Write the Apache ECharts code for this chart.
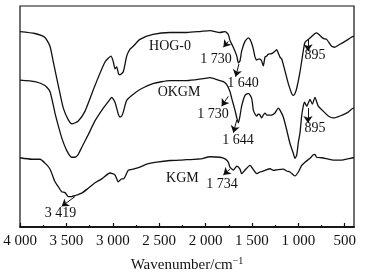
<!DOCTYPE html>
<html>
<head>
<meta charset="utf-8">
<script src="https://cdn.jsdelivr.net/npm/echarts@6/dist/echarts.min.js"></script>
<style>
  html, body { margin: 0; padding: 0; background: #fff; }
  #chart { width: 365px; height: 278px; }
</style>
</head>
<body>
<div id="chart"></div>
<script>
// FTIR spectra, stacked with offsets (transmittance, arbitrary units)
const hogWn = [4000,3838,3731,3677,3641,3587,3533,3479,3440,3372,3299,3192,3084,3019,2994,2976,2958,2938,2922,2887,2850,2814,2779,2707,2567,2383,2203,2060,1952,1844,1790,1755,1737,1701,1663,1646,1629,1611,1575,1539,1521,1503,1485,1467,1449,1432,1413,1395,1378,1359,1341,1324,1287,1252,1233,1216,1198,1179,1144,1108,1072,1054,1036,1018,982,947,928,893,856,821,803,767,731,695,641,605,587,551,515,462,408,400];
const hogT = [199,197,193,184,168,144,121,109,105,108,118,144,168,174,168,161,163,156,155,158,174,181,184,191,196,198,198,199,200,198,199,196,190,183,174,167,169,179,189,192.5,191,187,181,173,170,171,171,169,164,173,174,176,176.5,179,180.5,177,173,171,159,146,136,134,136,141,158,179,188,191,194,197,197.7,195,192,191,184,183,184,186,188,191,194,194];

const okgmWn = [4000,3838,3731,3677,3623,3587,3551,3497,3443,3407,3372,3335,3264,3192,3102,3030,3012,2976,2941,2922,2904,2887,2850,2796,2707,2567,2383,2203,2028,1952,1844,1808,1772,1737,1718,1683,1663,1646,1629,1611,1575,1539,1503,1485,1467,1449,1432,1413,1395,1378,1359,1341,1324,1287,1252,1216,1198,1162,1126,1090,1054,1036,1018,1000,982,964,947,932,910,874,849,821,785,731,677,623,551,462,408,400];
const okgmT = [149.5,148,144,138,116,103,91,78,71,71,74,81,94,108,121,130,132,127,115,112,113,117,129,134,140,146,149,149,151,152,149,148,145,138,131,119,111,106,113,123,134,136,131,119,115,113,115,114,111,114,116,114,114,114,116,121,119,112,99,85,75,70,73,86,96,113,123,127,123,130,125,132,123,118,113,111,113,117,121,121];

const kgmWn = [4000,3874,3784,3731,3677,3623,3587,3551,3515,3479,3443,3407,3335,3264,3192,3119,3030,2976,2941,2904,2887,2868,2833,2779,2707,2634,2527,2383,2276,2203,2060,1952,1844,1790,1755,1737,1701,1663,1629,1611,1575,1521,1485,1449,1413,1359,1305,1270,1216,1162,1126,1090,1054,1036,1000,964,928,874,839,821,803,749,677,623,533,462,408,400];
const kgmT = [70.5,69,69,65,59,46,41,36,35,31,31,32,34.5,39.5,45,49,55,53,46,49,49,51,57.7,59,61,64,66,67.7,68,68.5,69.3,71.5,71,69.3,66,61,58,62,59,54.3,58,62.7,58.5,54.3,56,57.7,59.3,57.7,58.5,59,57,56,53,52,56,62.7,66,70,73.5,74,71,70.5,69,68,68,69.5,70.5,70.5];

// x axis ticks
const majorTicks = [500,1000,1500,2000,2500,3000,3500,4000];
const minorTicks = [750,1250,1750,2250,2750,3250,3750];

// annotations (data coordinates)
const labelText = ['HOG-0','1 730','1 640','895','OKGM','1 730','1 644','895','KGM','1 734','3 419'];
const labelWn = [2383,1887,1597,821,2286,1920,1650,821,2249,1823,3563];
const labelT = [183.5,171,146,175,137,115,88,100,50,43,14];
const arrowFrom = [[1755,189],[1640,166],[896,191],[1755,133],[1663,109],[896,121],[1737,59],[3407,31]];
const arrowTo = [[1808,183],[1676,153],[896,179],[1826,123],[1700,96],[896,106],[1808,53],[3551,21]];

const FONT = '"Liberation Serif", "Times New Roman", serif';
const INK = '#111';

const zip = (xs, ys) => xs.map((x, i) => [x, ys[i]]);
const fmtWn = v => v >= 1000 ? Math.floor(v / 1000) + ' ' + String(v % 1000).padStart(3, '0') : String(v);

const lineSeries = (name, xs, ys) => ({
  name, type: 'line', data: zip(xs, ys), xAxisIndex: 0,
  showSymbol: false, smooth: 0.2, silent: true,
  lineStyle: { color: INK, width: 1.3 }
});

const series = [
  lineSeries('HOG-0', hogWn, hogT),
  lineSeries('OKGM', okgmWn, okgmT),
  lineSeries('KGM', kgmWn, kgmT)
];

series[0].markPoint = {
  symbol: 'circle', symbolSize: 0, silent: true, animation: false,
  label: {
    show: true, position: 'inside', color: INK,
    fontFamily: FONT, fontSize: 14, formatter: p => p.name
  },
  data: labelText.map((t, i) => ({ name: t, coord: [labelWn[i], labelT[i]] }))
};
series[0].markLine = {
  silent: true, animation: false,
  symbol: ['none', 'arrow'], symbolSize: 7,
  label: { show: false },
  lineStyle: { color: INK, width: 1, type: 'solid' },
  data: arrowFrom.map((f, i) => [{ coord: f }, { coord: arrowTo[i] }])
};

const baseX = {
  type: 'value', min: 400, max: 4000, inverse: true,
  splitLine: { show: false },
  axisLine: { show: true, lineStyle: { color: INK, width: 1.5 } }
};

const chart = echarts.init(document.getElementById('chart'), null, { renderer: 'canvas' });
chart.setOption({
  animation: false,
  backgroundColor: '#fff',
  grid: {
    left: 20, right: 11, top: 6, bottom: 47,
    show: true, borderColor: INK, borderWidth: 1.2, backgroundColor: 'transparent'
  },
  xAxis: [
    Object.assign({}, baseX, {
      name: 'Wavenumber/cm{sup|\u22121}',
      nameLocation: 'middle', nameGap: 29,
      nameTextStyle: {
        fontFamily: FONT, fontSize: 15, color: INK,
        rich: { sup: { fontFamily: FONT, fontSize: 10, color: INK, verticalAlign: 'top', padding: [0, 0, 9, 0] } }
      },
      axisTick: { show: true, inside: true, length: 4, customValues: majorTicks, lineStyle: { color: INK, width: 1.2 } },
      axisLabel: { show: true, customValues: majorTicks, formatter: fmtWn, fontFamily: FONT, fontSize: 15, color: INK, margin: 7 }
    }),
    Object.assign({}, baseX, {
      position: 'bottom',
      axisTick: { show: true, inside: true, length: 2, customValues: minorTicks, lineStyle: { color: INK, width: 1.2 } },
      axisLabel: { show: false }
    })
  ],
  yAxis: {
    type: 'value', min: 0, max: 225,
    axisLine: { show: false }, axisTick: { show: false },
    axisLabel: { show: false }, splitLine: { show: false }
  },
  series
});
</script>
</body>
</html>
